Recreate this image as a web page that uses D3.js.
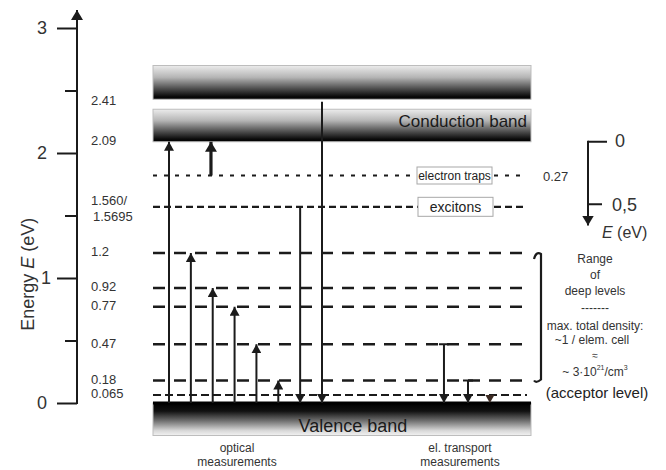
<!DOCTYPE html>
<html>
<head>
<meta charset="utf-8">
<script src="https://cdn.jsdelivr.net/npm/d3@7"></script>
<style>
  html, body { margin: 0; padding: 0; background: #fff; }
  svg { display: block; font-family: "Liberation Sans", Arial, sans-serif; }
</style>
</head>
<body>
<svg id="chart" width="666" height="470"></svg>
<script>
// Energy axis
const majorTicks = [0, 1, 2, 3];
const minorTicks = [0.5, 1.5, 2.5];

// Level energies (eV) and their labels on the left
const levelValues = [2.41, 2.09, 1.5695, 1.2, 0.92, 0.77, 0.47, 0.18, 0.065];
const levelLabels = ["2.41", "2.09", "1.560/\n1.5695", "1.2", "0.92", "0.77", "0.47", "0.18", "0.065"];

// Bands: [lower edge, upper edge] in eV
const bandNames = ["", "Conduction band", "Valence band"];
const bandLow  = [2.43, 2.09, -0.26];
const bandHigh = [2.70, 2.35, 0];

// Horizontal level lines
const trapLevel = 1.82;            // 0.27 eV below conduction band
const excitonLevel = 1.5695;
const deepLevels = [1.2, 0.92, 0.77, 0.47, 0.18];
const acceptorLevel = 0.065;

// Transitions: slot index along the diagram, start and end energy
const arrowSlot = [0, 1, 2, 3, 4, 5, 6, 7, 1.92, 12.58, 13.68, 14.68];
const arrowFrom = [0, 0, 0, 0, 0, 0, 1.5695, 2.41, 1.82, 0.47, 0.18, 0.065];
const arrowTo   = [2.09, 1.2, 0.92, 0.77, 0.47, 0.18, 0, 0, 2.09, 0, 0, 0];
const arrowKind = ["thin", "thin", "thin", "thin", "thin", "thin", "thin", "thin", "heavy", "cap", "cap", "small"];

// Secondary scale measured from the conduction band edge
const rightTicks = [0, 0.5];
const rightTickText = ["0", "0,5"];

// Notes on the deep-level range
const rangeNote = ["Range", "of", "deep levels", "-------", "max. total density:", "~1 / elem. cell", "\u2248"];

const svg = d3.select("#chart");
const defs = svg.append("defs");

const y = d3.scaleLinear().domain([0, 3]).range([403, 28]);
const xSlot = d3.scaleLinear().domain([0, 7]).range([169, 322]);
const xLeft = 153, xRight = 531;
const yRight = v => y(2.09 - v);

const ink = "#1b1b1b";
const textCol = "#333";

// gradients
const gDown = defs.append("linearGradient").attr("id", "gradDown")
  .attr("x1", 0).attr("y1", 0).attr("x2", 0).attr("y2", 1);
[[0, "#ececec"], [0.35, "#b5b5b5"], [0.7, "#4a4a4a"], [0.92, "#0a0a0a"], [1, "#000"]]
  .forEach(s => gDown.append("stop").attr("offset", s[0]).attr("stop-color", s[1]));
const gUp = defs.append("linearGradient").attr("id", "gradUp")
  .attr("x1", 0).attr("y1", 0).attr("x2", 0).attr("y2", 1);
[[0, "#000"], [0.25, "#111"], [0.55, "#707070"], [0.85, "#d8d8d8"], [1, "#f2f2f2"]]
  .forEach(s => gUp.append("stop").attr("offset", s[0]).attr("stop-color", s[1]));

// arrow markers
function marker(id, w, h, color) {
  defs.append("marker").attr("id", id)
    .attr("viewBox", `0 0 ${h} ${w}`).attr("refX", h).attr("refY", w / 2)
    .attr("markerWidth", h).attr("markerHeight", w)
    .attr("markerUnits", "userSpaceOnUse").attr("orient", "auto")
    .append("path").attr("d", `M0,0L${h},${w / 2}L0,${w}Z`).attr("fill", color);
}
marker("head", 10, 9, ink);
marker("headBig", 12, 10, ink);
marker("headSmall", 9, 8, "#3b2a22");

// bands
const bands = svg.append("g");
bandLow.forEach((lo, i) => {
  const hi = bandHigh[i];
  bands.append("rect")
    .attr("x", xLeft).attr("width", xRight - xLeft)
    .attr("y", y(hi)).attr("height", y(lo) - y(hi))
    .attr("fill", i === 2 ? "url(#gradUp)" : "url(#gradDown)")
    .attr("stroke", "#bdbdbd").attr("stroke-width", 1);
});
bands.append("text").text(bandNames[1])
  .attr("x", xRight - 4).attr("y", (y(bandLow[1]) + y(bandHigh[1])) / 2 - 3)
  .attr("text-anchor", "end").attr("dominant-baseline", "middle")
  .attr("font-size", 17).attr("fill", "#1a1a1a");
bands.append("text").text(bandNames[2])
  .attr("x", 353).attr("y", (y(bandLow[2]) + y(bandHigh[2])) / 2 + 8)
  .attr("text-anchor", "middle").attr("dominant-baseline", "middle")
  .attr("font-size", 18).attr("fill", "#1a1a1a");
// top edge of the valence band
svg.append("line").attr("x1", xLeft).attr("x2", xRight)
  .attr("y1", y(0)).attr("y2", y(0)).attr("stroke", "#000").attr("stroke-width", 3);

// level lines
const levels = svg.append("g").attr("stroke", ink).attr("fill", "none");
function levelLine(v, dash, w) {
  levels.append("line").attr("x1", xLeft).attr("x2", xRight - 4)
    .attr("y1", y(v)).attr("y2", y(v))
    .attr("stroke-width", w).attr("stroke-dasharray", dash);
}
levelLine(trapLevel, "4,7", 2.2);
levelLine(excitonLevel, "7,4", 2.2);
deepLevels.forEach(v => levelLine(v, "12,9", 2.4));
levelLine(acceptorLevel, "8,4", 2);

// bracket for the deep-level range
const bx = 541, bt = y(deepLevels[0]), bb = y(deepLevels[deepLevels.length - 1]);
svg.append("path")
  .attr("d", `M${bx - 7},${bt + 6} Q${bx - 5},${bt - 2} ${bx},${bt + 1} L${bx},${bb - 1} Q${bx - 5},${bb + 3} ${bx - 7},${bb}`)
  .attr("fill", "none").attr("stroke", ink).attr("stroke-width", 2.2);

// labelled boxes on the trap and exciton lines
function boxLabel(v, text, x0, w, h, fs) {
  svg.append("rect").attr("x", x0).attr("y", y(v) - h / 2).attr("width", w).attr("height", h)
    .attr("fill", "#fff").attr("stroke", "#a8a8a8").attr("stroke-width", 1);
  svg.append("text").text(text).attr("x", x0 + w / 2).attr("y", y(v) + 1)
    .attr("text-anchor", "middle").attr("dominant-baseline", "middle")
    .attr("font-size", fs).attr("fill", "#222");
}
boxLabel(trapLevel, "electron traps", 417, 75, 17, 12);
boxLabel(excitonLevel, "excitons", 418, 75, 19, 14);

// transitions
const arrows = svg.append("g");
arrowSlot.forEach((s, i) => {
  const x = xSlot(s), kind = arrowKind[i];
  const ln = arrows.append("line")
    .attr("x1", x).attr("x2", x)
    .attr("y1", y(arrowFrom[i])).attr("y2", y(arrowTo[i]))
    .attr("stroke", kind === "small" ? "#3b2a22" : ink)
    .attr("stroke-width", kind === "heavy" ? 3.2 : 2)
    .attr("marker-end", kind === "heavy" ? "url(#headBig)" : kind === "small" ? "url(#headSmall)" : "url(#head)");
  if (kind === "small") ln.attr("stroke-width", 0.1);
  if (kind === "cap") {
    arrows.append("line").attr("x1", x - 5).attr("x2", x + 5)
      .attr("y1", y(arrowFrom[i])).attr("y2", y(arrowFrom[i]))
      .attr("stroke", ink).attr("stroke-width", 2);
  }
});

// left energy axis
const axisX = 77;
const axisG = svg.append("g").attr("transform", `translate(${axisX},0)`);
axisG.call(d3.axisLeft(y).tickValues(majorTicks).tickSize(20).tickPadding(10).tickFormat(d3.format("d")));
axisG.append("g").call(d3.axisLeft(y).tickValues(minorTicks).tickSize(12).tickFormat(""));
axisG.selectAll(".domain").remove();
axisG.selectAll("line").attr("stroke", ink).attr("stroke-width", 2);
axisG.selectAll("text").attr("font-size", 18).attr("fill", textCol)
  .attr("font-family", "Liberation Sans, Arial, sans-serif")
  .attr("dx", d => d === 1 ? 4 : 0);
svg.append("line").attr("x1", axisX).attr("x2", axisX)
  .attr("y1", y(0) + 1).attr("y2", 10)
  .attr("stroke", ink).attr("stroke-width", 2).attr("marker-end", "url(#headBig)");

svg.append("text")
  .attr("transform", `translate(29,${y(1.03)}) rotate(-90)`)
  .attr("text-anchor", "middle").attr("dominant-baseline", "middle")
  .attr("font-size", 18).attr("fill", textCol)
  .call(t => {
    t.append("tspan").text("Energy ");
    t.append("tspan").text("E").attr("font-style", "italic");
    t.append("tspan").text(" (eV)");
  });

// level value labels
levelValues.forEach((v, i) => {
  const parts = levelLabels[i].split("\n");
  parts.forEach((p, j) => {
    svg.append("text").text(p)
      .attr("x", 91 + j * 2)
      .attr("y", y(v) + (parts.length > 1 ? (j - 0.5) * 16 + 3 : 0))
      .attr("dominant-baseline", "middle")
      .attr("font-size", 13).attr("fill", textCol);
  });
});

// trap depth label
svg.append("text").text("0.27").attr("x", 543).attr("y", y(trapLevel) + 2)
  .attr("dominant-baseline", "middle").attr("font-size", 13).attr("fill", textCol);

// secondary axis measured downward from the conduction band
const rx = 588;
svg.append("line").attr("x1", rx).attr("x2", rx)
  .attr("y1", yRight(0) - 1).attr("y2", yRight(0.67))
  .attr("stroke", ink).attr("stroke-width", 2).attr("marker-end", "url(#headBig)");
rightTicks.forEach((v, i) => {
  svg.append("line").attr("x1", rx).attr("x2", rx + (i === 0 ? 19 : 14))
    .attr("y1", yRight(v)).attr("y2", yRight(v))
    .attr("stroke", ink).attr("stroke-width", 2);
  svg.append("text").text(rightTickText[i])
    .attr("x", i === 0 ? 615 : 612).attr("y", yRight(v) + (i === 0 ? 0 : 2))
    .attr("dominant-baseline", "middle").attr("font-size", 18).attr("fill", textCol);
});
svg.append("text").attr("x", 602).attr("y", yRight(0.67) + 8)
  .attr("dominant-baseline", "middle").attr("font-size", 16).attr("fill", textCol)
  .call(t => {
    t.append("tspan").text("E").attr("font-style", "italic");
    t.append("tspan").text(" (eV)");
  });

// notes on the deep-level range
const noteY = [260, 276, 292, 309, 327, 341, 356];
rangeNote.forEach((s, i) => {
  svg.append("text").text(s).attr("x", i === 5 ? 592 : 595).attr("y", noteY[i])
    .attr("text-anchor", "middle").attr("dominant-baseline", "middle")
    .attr("font-size", i === 6 ? 10 : 12).attr("fill", textCol);
});
svg.append("text").attr("x", 595).attr("y", 373)
  .attr("text-anchor", "middle").attr("dominant-baseline", "middle")
  .attr("font-size", 12).attr("fill", textCol)
  .call(t => {
    t.append("tspan").text("~ 3\u00b710");
    t.append("tspan").text("21").attr("font-size", 7).attr("dy", -5);
    t.append("tspan").text("/cm").attr("dy", 5);
    t.append("tspan").text("3").attr("font-size", 7).attr("dy", -5);
  });
svg.append("text").text("(acceptor level)").attr("x", 597).attr("y", 394)
  .attr("text-anchor", "middle").attr("dominant-baseline", "middle")
  .attr("font-size", 15).attr("fill", "#222");

// group captions under the diagram
function caption(lines, cx) {
  lines.forEach((s, i) => {
    svg.append("text").text(s).attr("x", cx).attr("y", 449 + i * 14)
      .attr("text-anchor", "middle").attr("dominant-baseline", "middle")
      .attr("font-size", 12).attr("fill", textCol);
  });
}
caption(["optical", "measurements"], 237);
caption(["el. transport", "measurements"], 460);
</script>
</body>
</html>
